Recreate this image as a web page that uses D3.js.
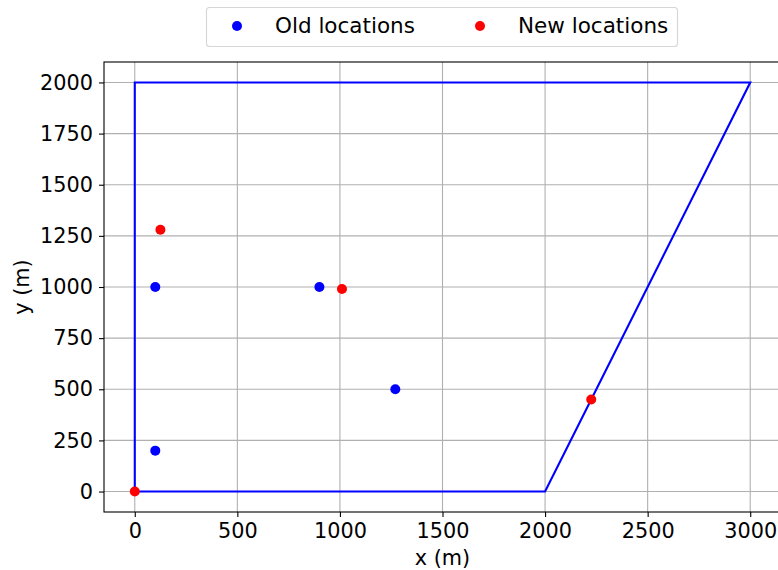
<!DOCTYPE html>
<html>
<head>
<meta charset="utf-8">
<script src="https://cdn.jsdelivr.net/npm/d3@7"></script>
<style>
  html, body { margin: 0; padding: 0; background: #fff; }
  svg { display: block; font-family: "DejaVu Sans", sans-serif; }
</style>
</head>
<body>
<svg id="chart" width="778" height="570"></svg>
<script>
// Data
const boundaryX = [0, 2000, 3000, 0, 0];
const boundaryY = [0, 0, 2000, 2000, 0];
const oldX = [100, 100, 900, 1270];
const oldY = [200, 1000, 1000, 500];
const newX = [0, 125, 1010, 2225];
const newY = [0, 1280, 990, 450];
const xTicks = [0, 500, 1000, 1500, 2000, 2500, 3000];
const yTicks = [0, 250, 500, 750, 1000, 1250, 1500, 1750, 2000];
const seriesNames = ["Old locations", "New locations"];
const seriesColors = ["#0000ff", "#ff0000"];

(function () {
const svg = d3.select("#chart");
const pL = 104, pR = 781, pT = 62, pB = 512;
const FS = 20.8;

const x = d3.scaleLinear().domain([-150, 3150]).range([pL, pR]);
const y = d3.scaleLinear().domain([-100, 2100]).range([pB, pT]);

// grid
const g = svg.append("g");
g.selectAll(".gx").data(xTicks).enter().append("line")
  .attr("x1", d => x(d)).attr("x2", d => x(d))
  .attr("y1", pT).attr("y2", pB)
  .attr("stroke", "#b0b0b0").attr("stroke-width", 1.1);
g.selectAll(".gy").data(yTicks).enter().append("line")
  .attr("x1", pL).attr("x2", pR)
  .attr("y1", d => y(d)).attr("y2", d => y(d))
  .attr("stroke", "#b0b0b0").attr("stroke-width", 1.1);

// boundary line
const pts = boundaryX.map((d, i) => [d, boundaryY[i]]);
svg.append("path")
  .attr("d", d3.line().x(d => x(d[0])).y(d => y(d[1]))(pts))
  .attr("fill", "none").attr("stroke", "#0000ff").attr("stroke-width", 2.1)
  .attr("stroke-linejoin", "miter");

// points
const oldPts = oldX.map((d, i) => [d, oldY[i]]);
const newPts = newX.map((d, i) => [d, newY[i]]);
svg.append("g").selectAll("circle").data(oldPts).enter().append("circle")
  .attr("cx", d => x(d[0])).attr("cy", d => y(d[1])).attr("r", 5)
  .attr("fill", seriesColors[0]);
svg.append("g").selectAll("circle").data(newPts).enter().append("circle")
  .attr("cx", d => x(d[0])).attr("cy", d => y(d[1])).attr("r", 5)
  .attr("fill", seriesColors[1]);

// axes
const xAxis = d3.axisBottom(x).tickValues(xTicks).tickSize(5).tickPadding(6).tickFormat(d3.format("d"));
const yAxis = d3.axisLeft(y).tickValues(yTicks).tickSize(5).tickPadding(6).tickFormat(d3.format("d"));
const gx = svg.append("g").attr("transform", `translate(0,${pB})`).call(xAxis);
const gy = svg.append("g").attr("transform", `translate(${pL},0)`).call(yAxis);
[gx, gy].forEach(a => {
  a.select(".domain").remove();
  a.selectAll("text").attr("font-size", FS).attr("fill", "#000").attr("font-family", "DejaVu Sans");
  a.selectAll("line").attr("stroke", "#000").attr("stroke-width", 1.1);
});

// spines
svg.append("rect").attr("x", pL).attr("y", pT)
  .attr("width", pR - pL).attr("height", pB - pT)
  .attr("fill", "none").attr("stroke", "#000").attr("stroke-width", 1.1);

// axis labels
svg.append("text").attr("x", (pL + pR) / 2).attr("y", 565)
  .attr("text-anchor", "middle").attr("font-size", FS).text("x (m)");
svg.append("text").attr("transform", `translate(29,${(pT + pB) / 2}) rotate(-90)`)
  .attr("text-anchor", "middle").attr("font-size", FS).text("y (m)");

// legend
const lg = svg.append("g");
lg.append("rect").attr("x", 206.5).attr("y", 7.5).attr("width", 471).attr("height", 39)
  .attr("rx", 3).attr("fill", "#fff").attr("stroke", "#d6d6d6").attr("stroke-width", 1.1);
const legX = [237, 480];
seriesNames.forEach((n, i) => {
  lg.append("circle").attr("cx", legX[i]).attr("cy", 26).attr("r", 5).attr("fill", seriesColors[i]);
  lg.append("text").attr("x", legX[i] + 38).attr("y", 33).attr("font-size", 21.5).text(n);
});
})();
</script>
</body>
</html>
